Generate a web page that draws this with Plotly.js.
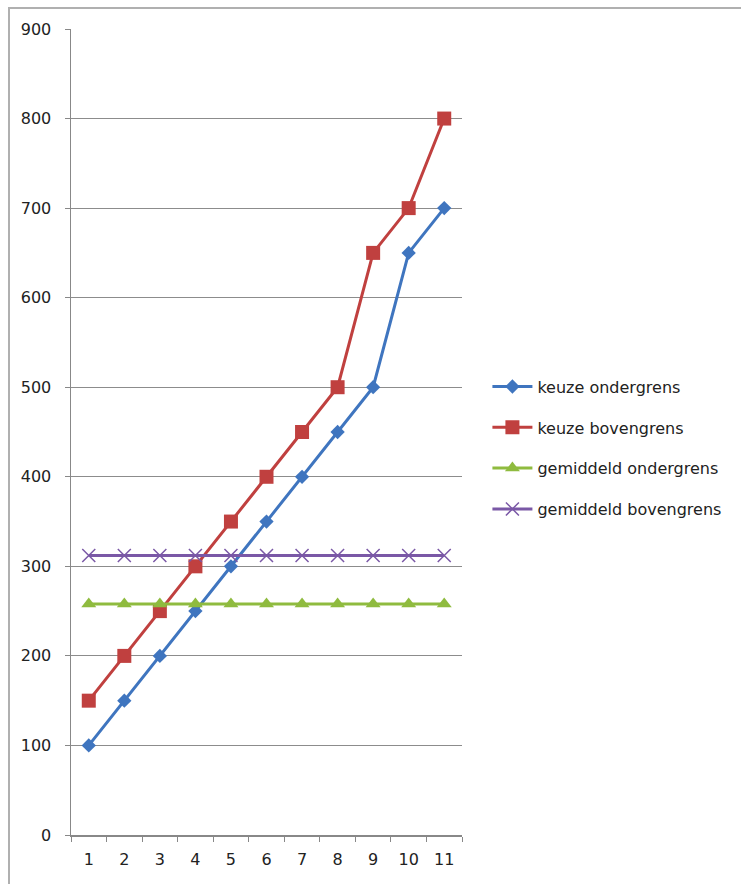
<!DOCTYPE html>
<html>
<head>
<meta charset="utf-8">
<script src="https://cdn.plot.ly/plotly-3.0.1.min.js"></script>
<style>
  html, body { margin: 0; padding: 0; background: #fff; }
  #wrap { position: relative; width: 741px; height: 884px; overflow: hidden; }
  #frame { position: absolute; left: 8px; top: 7px; width: 760px; height: 900px;
           border-top: 2px solid #b0b0b0; border-left: 2px solid #b0b0b0; pointer-events: none; }
  #chart { position: absolute; left: 0; top: 0; width: 741px; height: 884px; }
</style>
</head>
<body>
<div id="wrap">
  <div id="chart"></div>
  <div id="frame"></div>
</div>
<script>
// Categories along the x axis
const categories = ['1', '2', '3', '4', '5', '6', '7', '8', '9', '10', '11'];

// Series values
const keuzeOndergrens = [100, 150, 200, 250, 300, 350, 400, 450, 500, 650, 700];
const keuzeBovengrens = [150, 200, 250, 300, 350, 400, 450, 500, 650, 700, 800];
const gemiddeldOndergrens = [258, 258, 258, 258, 258, 258, 258, 258, 258, 258, 258];
const gemiddeldBovengrens = [312, 312, 312, 312, 312, 312, 312, 312, 312, 312, 312];

const seriesNames = ['keuze ondergrens', 'keuze bovengrens', 'gemiddeld ondergrens', 'gemiddeld bovengrens'];

const FONT = '"DejaVu Sans", "Open Sans", sans-serif';

function series(name, y, color, symbol, size, group) {
  return {
    type: 'scatter', mode: 'lines+markers', name: name, x: categories, y: y,
    legendgroup: group,
    line: { color: color, width: 3 },
    marker: { symbol: symbol, size: size, color: color,
              line: { color: color, width: symbol.indexOf('x') === 0 ? 1.5 : 0 } }
  };
}

const traces = [
  series(seriesNames[0], keuzeOndergrens, '#3f75bf', 'diamond', 11, 'a'),
  series(seriesNames[1], keuzeBovengrens, '#c0403f', 'square', 14, 'b'),
  series(seriesNames[2], gemiddeldOndergrens, '#8fbb3f', 'triangle-up', 13, 'c'),
  series(seriesNames[3], gemiddeldBovengrens, '#7a58a6', 'x-thin-open', 13, 'd')
];

const layout = {
  width: 741, height: 884,
  margin: { l: 71, r: 279, t: 29, b: 49 },
  paper_bgcolor: '#ffffff', plot_bgcolor: '#ffffff',
  font: { family: FONT, size: 16, color: '#222' },
  showlegend: true,
  legend: {
    x: 1.065, xanchor: 'left', y: 0.48, yanchor: 'middle',
    traceorder: 'grouped', tracegroupgap: 17,
    font: { family: FONT, size: 16, color: '#222' },
    itemwidth: 40, bgcolor: 'rgba(0,0,0,0)'
  },
  xaxis: {
    type: 'category', range: [-0.5, 10.5],
    tickson: 'boundaries', ticks: 'outside', ticklen: 5, tickcolor: '#888',
    showline: true, linecolor: '#888', linewidth: 1.5,
    showgrid: false, zeroline: false, fixedrange: true,
    tickfont: { family: FONT, size: 16, color: '#222' }, ticklabelstandoff: 9
  },
  yaxis: {
    range: [0, 900], dtick: 100, tick0: 0,
    ticks: 'outside', ticklen: 5, tickcolor: '#888',
    showline: true, linecolor: '#888', linewidth: 1.5,
    showgrid: true, gridcolor: '#8c8c8c', gridwidth: 1.2, zeroline: false, fixedrange: true,
    tickfont: { family: FONT, size: 16, color: '#222' }, ticklabelstandoff: 10
  }
};

Plotly.newPlot('chart', traces, layout, { displayModeBar: false, staticPlot: true });
</script>
</body>
</html>
